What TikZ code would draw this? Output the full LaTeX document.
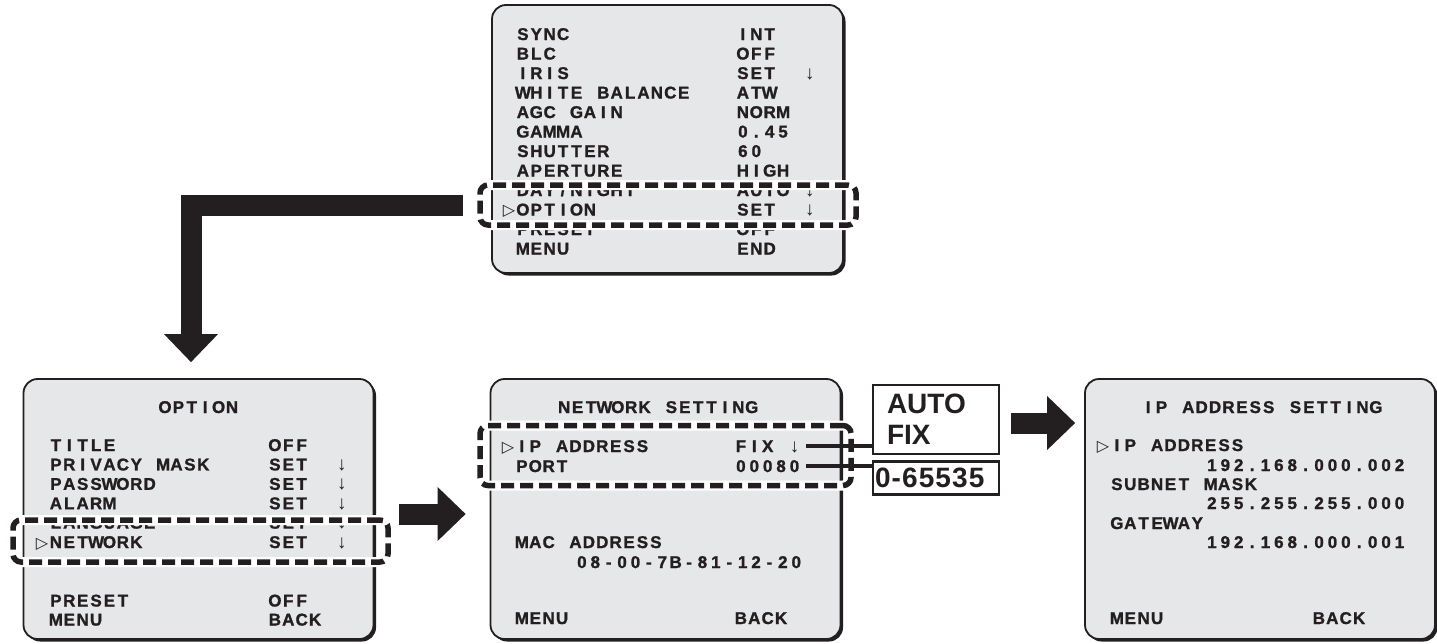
\documentclass[tikz,border=0pt]{standalone}
\usepackage{fontspec}
\setmainfont{Liberation Sans}
\newfontfamily\osdfamily{Liberation Sans}[BoldFeatures={FakeBold=1.2}]
\newfontfamily\symfont{DejaVu Sans}
\usepackage{tikz}
\usetikzlibrary{arrows.meta, positioning, shadows}
\definecolor{osdgray}{RGB}{230,231,232}
\definecolor{osdink}{RGB}{35,31,32}

%% fixed-cell text, as on the camera screen
\newlength\osdcell
\setlength\osdcell{13.4pt}
\newcommand\osdfont{\osdfamily\fontsize{17}{19}\selectfont\bfseries}
\newcommand\tagfont{\fontsize{28}{31}\selectfont\bfseries}
\newcommand\dn{{\mdseries\fontsize{19}{19}\selectfont ↓}}
\newcommand\cur{\llap{{\symfont\fontsize{16}{16}\selectfont ▷}\hspace{1pt}}}
\def\osdstop{\osdstop}
\newcommand\osd[1]{\osdnext#1\osdstop}
\def\osdnext#1{\ifx#1\osdstop\else\hbox to\osdcell{\hss#1\hss}\expandafter\osdnext\fi}

\tikzset{
  %% ---- boxes ----
  screen/.style  = {rectangle, rounded corners=14pt,
                    draw=osdink, line width=1.8pt, fill=osdgray,
                    minimum width=350pt, minimum height=260pt,
                    drop shadow={shadow xshift=2.5pt, shadow yshift=-2.5pt,
                                 fill=osdink, opacity=1}},
  selbox/.style  = {rectangle, rounded corners=8pt, inner sep=0pt, outer sep=0pt,
                    draw=osdink, line width=5.5pt, dash pattern=on 13pt off 6pt,
                    preaction={draw=white, line width=10pt, solid}},
  tag/.style     = {rectangle, draw=osdink, line width=2.5pt, fill=white,
                    font=\tagfont, text=osdink, align=left,
                    text width=98pt, inner xsep=14pt, minimum width=126pt},
  %% ---- texts ----
  row/.style     = {anchor=base west, inner sep=0pt, font=\osdfont, text=osdink},
  head/.style    = {anchor=base, inner sep=0pt, font=\osdfont, text=osdink},
  %% ---- arrows ----
  leader/.style  = {line width=4pt, draw=osdink},
  bigarr/.style  = {line width=21pt, draw=osdink, line join=miter,
                    -{Triangle[length=28pt, width=54pt, line width=0pt]}},
}

\begin{document}
\begin{tikzpicture}[x=1pt, y=-1pt]
\useasboundingbox (0, 0) rectangle (1437, 643);

%% ── Screens ───────────────────────────────────────────────────────────────
\node[screen, minimum width=351pt, minimum height=268pt] (main) at (667.5, 139) {};
\node[screen] (option)  at (198.5, 509) {};
\node[screen] (network) at (665.5, 509) {};
\node[screen] (ipset)   at (1260, 509) {};

%% ── Main menu ─────────────────────────────────────────────────────────────
\node[row] (sync)    at (516, 40)    {\osd{SYNC}};
\node[row] (syncv)   at (736, 40)    {\osd{INT}};
\node[row] (blc)     at (516, 59.5)  {\osd{BLC}};
\node[row] (blcv)    at (736, 59.5)  {\osd{OFF}};
\node[row] (iris)    at (516, 79)    {\osd{IRIS}};
\node[row] (irisv)   at (736, 79)    {\osd{SET~~\dn}};
\node[row] (wb)      at (516, 98.5)  {\osd{WHITE~BALANCE}};
\node[row] (wbv)     at (736, 98.5)  {\osd{ATW}};
\node[row] (agc)     at (516, 118)   {\osd{AGC~GAIN}};
\node[row] (agcv)    at (736, 118)   {\osd{NORM}};
\node[row] (gamma)   at (516, 137.5) {\osd{GAMMA}};
\node[row] (gammav)  at (736, 137.5) {\osd{0.45}};
\node[row] (shut)    at (516, 157)   {\osd{SHUTTER}};
\node[row] (shutv)   at (736, 157)   {\osd{60}};
\node[row] (aper)    at (516, 176.5) {\osd{APERTURE}};
\node[row] (aperv)   at (736, 176.5) {\osd{HIGH}};
\node[row] (dnight)  at (516, 196)   {\osd{DAY/NIGHT}};
\node[row] (dnightv) at (736, 196)   {\osd{AUTO~\dn}};
\node[row] (opt)     at (516, 215.5) {\cur\osd{OPTION}};
\node[row] (optv)    at (736, 215.5) {\osd{SET~~\dn}};
\node[row] (pre)     at (516, 235)   {\osd{PRESET}};
\node[row] (prev)    at (736, 235)   {\osd{OFF}};
\node[row] (menu)    at (516, 254.5) {\osd{MENU}};
\node[row] (menuv)   at (736, 254.5) {\osd{END}};

%% ── OPTION ────────────────────────────────────────────────────────────────
\node[head] (opttitle) at (198.5, 413) {\osd{OPTION}};
\node[row] (title)   at (49, 451)    {\osd{TITLE}};
\node[row] (titlev)  at (268, 451)   {\osd{OFF}};
\node[row] (priv)    at (49, 470.4)  {\osd{PRIVACY~MASK}};
\node[row] (privv)   at (268, 470.4) {\osd{SET~~\dn}};
\node[row] (pass)    at (49, 489.8)  {\osd{PASSWORD}};
\node[row] (passv)   at (268, 489.8) {\osd{SET~~\dn}};
\node[row] (alarm)   at (49, 509.2)  {\osd{ALARM}};
\node[row] (alarmv)  at (268, 509.2) {\osd{SET~~\dn}};
\node[row] (lang)    at (49, 528.6)  {\osd{LANGUAGE}};
\node[row] (langv)   at (268, 528.6) {\osd{SET~~\dn}};
\node[row] (net)     at (49, 548)    {\cur\osd{NETWORK}};
\node[row] (netv)    at (268, 548)   {\osd{SET~~\dn}};
\node[row] (opre)    at (49, 606.5)  {\osd{PRESET}};
\node[row] (oprev)   at (268, 606.5) {\osd{OFF}};
\node[row] (omenu)   at (49, 625.5)  {\osd{MENU}};
\node[row] (omenuv)  at (268, 625.5) {\osd{BACK}};

%% ── NETWORK SETTING ───────────────────────────────────────────────────────
\node[head] (nettitle) at (658, 413) {\osd{NETWORK~SETTING}};
\node[row] (ipaddr)  at (515, 452)   {\cur\osd{IP~ADDRESS}};
\node[row] (fixv)    at (734, 452)   {\osd{FIX~\dn}};
\node[row] (port)    at (515, 472)   {\osd{PORT}};
\node[row] (portv)   at (734, 472)   {\osd{00080}};
\node[row] (mac)     at (515, 548)   {\osd{MAC~ADDRESS}};
\node[row] (macv)    at (575, 568)   {\osd{08-00-7B-81-12-20}};
\node[row] (nmenu)   at (515, 624)   {\osd{MENU}};
\node[row] (nmenuv)  at (734, 624)   {\osd{BACK}};

%% ── IP ADDRESS SETTING ────────────────────────────────────────────────────
\node[head] (iptitle) at (1262, 413) {\osd{IP~ADDRESS~SETTING}};
\node[row] (ip)      at (1110, 451)  {\cur\osd{IP~ADDRESS}};
\node[row] (ipv)     at (1205, 471)  {\osd{192.168.000.002}};
\node[row] (mask)    at (1110, 490)  {\osd{SUBNET~MASK}};
\node[row] (maskv)   at (1205, 509)  {\osd{255.255.255.000}};
\node[row] (gw)      at (1110, 529)  {\osd{GATEWAY}};
\node[row] (gwv)     at (1205, 548)  {\osd{192.168.000.001}};
\node[row] (imenu)   at (1110, 624)  {\osd{MENU}};
\node[row] (imenuv)  at (1312, 624)  {\osd{BACK}};

%% ── Selected lines ────────────────────────────────────────────────────────
\node[selbox, minimum width=376pt, minimum height=40pt] (selopt) at (668, 205)     {};
\node[selbox, minimum width=375pt, minimum height=42pt] (selnet) at (200.5, 541)   {};
\node[selbox, minimum width=371pt, minimum height=60pt] (selip)  at (665.5, 455.5) {};

%% ── Value ranges ──────────────────────────────────────────────────────────
\node[tag, minimum height=69pt] (autofix) at (936, 419.5) {AUTO\\FIX};
\node[tag, minimum height=33pt, text width=122pt, inner xsep=2pt,
      below=5pt of autofix] (range) {\addfontfeature{LetterSpace=4}0-65535};
\draw[leader] ([xshift=5pt]fixv.east)  -- (fixv.east -| autofix.west);
\draw[leader] ([xshift=5pt]portv.east) -- (portv.east -| range.west);

%% ── Arrows ────────────────────────────────────────────────────────────────
\draw[bigarr] ([xshift=-17pt]selopt.west) -| ([xshift=-7.5pt, yshift=16pt]option.north);
\draw[bigarr] ([xshift=25pt, yshift=-5pt]option.east) -- ([xshift=-24pt, yshift=-5pt]network.west);
\draw[bigarr] ([xshift=11pt, yshift=-3.5pt]autofix.east) -- ([xshift=-9pt, yshift=-3.5pt]ipset.west |- autofix.east);

\end{tikzpicture}
\end{document}
